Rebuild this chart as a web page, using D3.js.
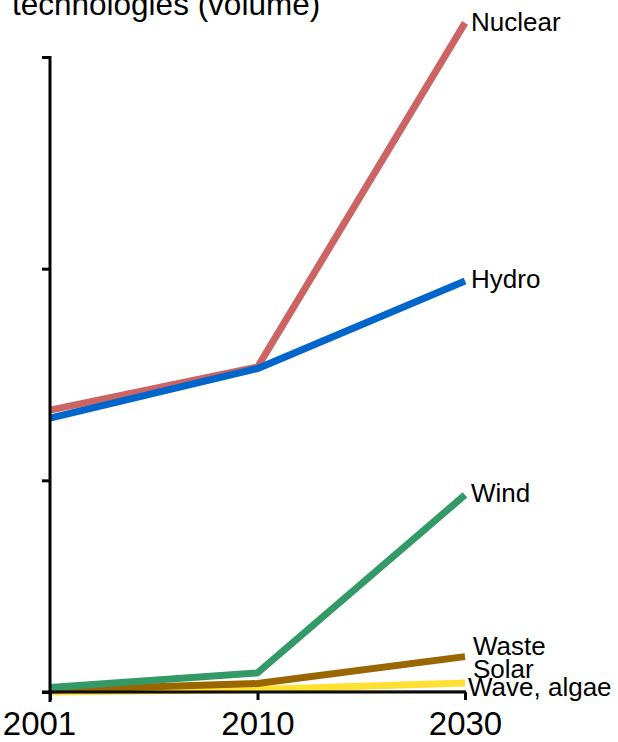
<!DOCTYPE html>
<html>
<head>
<meta charset="utf-8">
<script src="https://cdn.jsdelivr.net/npm/d3@7/dist/d3.min.js"></script>
<style>
  html, body { margin: 0; padding: 0; background: #fff; }
  svg { display: block; font-family: "Liberation Sans", Arial, sans-serif; }
</style>
</head>
<body>
<svg id="chart" width="618" height="742"></svg>
<script>
// Years on the x axis
const years = [2001, 2010, 2030];
const yearLabels = ["2001", "2010", "2030"];

// Relative volume per technology (unlabelled y axis, ticks every unit)
const nuclear = [1.332, 1.535, 3.161];
const hydro   = [1.294, 1.528, 1.942];
const wind    = [0.021, 0.090, 0.931];
const waste   = [0.010, 0.040, 0.167];
const solar   = [0.000, 0.012, 0.043];
const wave    = [0.000, 0.000, 0.002];

const seriesNames  = ["Nuclear", "Hydro", "Wind", "Waste", "Solar", "Wave, algae"];
const seriesValues = [nuclear, hydro, wind, waste, solar, wave];
const seriesColors = ["#cd6464", "#0066cc", "#339966", "#996600", "#ffe033", "#111111"];
const yTicks = [0, 1, 2, 3];

// Label nudges for the crowded bottom end
const labelDx = [6, 6, 6, 8, 8, 3];
const labelDy = [8, 7, 7, -2, -5, 4];

const svg = d3.select("#chart");

// Year positions: the three years are shown as evenly spaced stops
const xBand = d3.scalePoint().domain(years).range([50, 465]);
const y = d3.scaleLinear().domain([0, 3]).range([692, 57]);

const line = d3.line()
  .x((d, i) => xBand(years[i]))
  .y(d => y(d));

// Series lines
const order = [4, 3, 2, 0, 1];
order.forEach(k => {
  svg.append("path")
    .datum(seriesValues[k])
    .attr("d", line)
    .attr("fill", "none")
    .attr("stroke", seriesColors[k])
    .attr("stroke-width", 7)
    .attr("stroke-linejoin", "miter")
    .attr("stroke-linecap", "butt");
});

// Y axis: line with left ticks, no labels
const yAxis = d3.axisLeft(y).tickValues(yTicks).tickSize(8).tickFormat("");
const gy = svg.append("g").attr("transform", "translate(50,0)").call(yAxis);
gy.select(".domain").remove();
gy.append("line").attr("x1", 0).attr("x2", 0).attr("y1", y(3) - 1).attr("y2", y(0) + 10)
  .attr("stroke", "#000").attr("stroke-width", 3);
gy.selectAll(".tick line").attr("stroke", "#000").attr("stroke-width", 3);

// X axis: baseline with downward ticks and year labels
const xAxis = d3.axisBottom(xBand).tickValues(years).tickSize(8)
  .tickFormat((d, i) => yearLabels[i]).tickPadding(12);
const gx = svg.append("g").attr("transform", "translate(0,692)").call(xAxis);
gx.select(".domain").remove();
gx.append("line").attr("x1", 42).attr("x2", 466).attr("y1", 0).attr("y2", 0)
  .attr("stroke", "#000").attr("stroke-width", 3);
gx.selectAll(".tick line").attr("stroke", "#000").attr("stroke-width", 3);
gx.selectAll(".tick text")
  .attr("font-size", 33)
  .attr("fill", "#000")
  .attr("font-family", "Liberation Sans, Arial, sans-serif")
  .attr("dx", (d, i) => i === 0 ? -11 : 0);

// Wave & algae line sits on the baseline
svg.append("path")
  .datum(wave)
  .attr("d", line)
  .attr("fill", "none")
  .attr("stroke", seriesColors[5])
  .attr("stroke-width", 2)
  .attr("stroke-opacity", 0.8);

// End labels
seriesNames.forEach((name, k) => {
  const v = seriesValues[k];
  svg.append("text")
    .attr("x", xBand(years[2]) + labelDx[k])
    .attr("y", y(v[2]) + labelDy[k])
    .attr("font-size", 26)
    .attr("fill", "#000")
    .text(name);
});

// Title (upper line runs off the top edge)
svg.append("text")
  .attr("x", 12)
  .attr("y", 15)
  .attr("font-size", 31.5)
  .attr("fill", "#000")
  .text("technologies (volume)");
</script>
</body>
</html>
